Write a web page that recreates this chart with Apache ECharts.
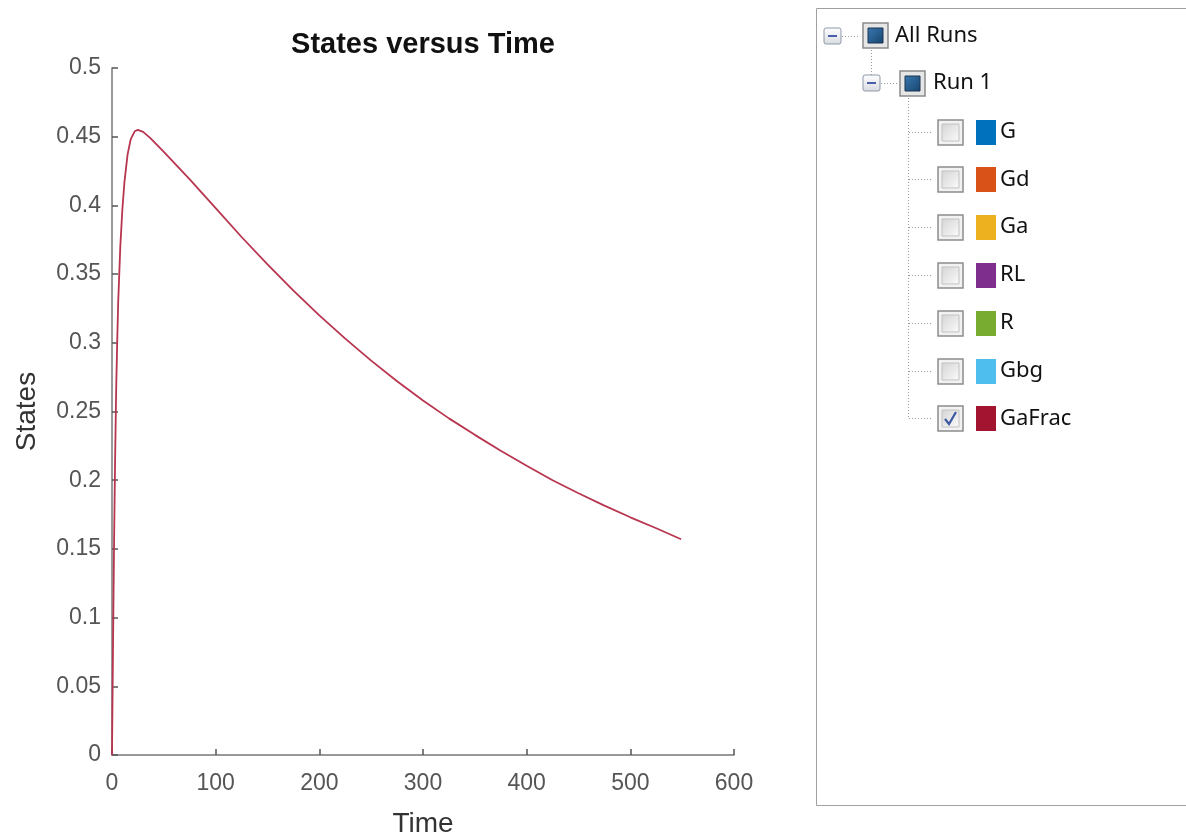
<!DOCTYPE html>
<html>
<head>
<meta charset="utf-8">
<script src="https://cdn.jsdelivr.net/npm/echarts@6/dist/echarts.min.js"></script>
<style>
html,body{margin:0;padding:0;background:#fff;}
#chart{width:1186px;height:838px;}
</style>
</head>
<body>
<div id="chart"></div>
<script>
// ---- data ----
var timeValues   = [0, 1, 2, 3, 4, 5, 6, 8, 10, 12, 15, 18, 22, 25, 30, 37, 50, 75, 100, 125, 150, 175, 200, 225, 250, 275, 300, 325, 350, 375, 400, 425, 450, 475, 500, 525, 549];
var gaFracValues = [0, 0.08, 0.155, 0.215, 0.265, 0.3, 0.33, 0.37, 0.397, 0.417, 0.437, 0.448, 0.454, 0.455, 0.4535, 0.449, 0.439, 0.419, 0.398, 0.377, 0.357, 0.338, 0.32, 0.303, 0.287, 0.272, 0.258, 0.245, 0.233, 0.2215, 0.2105, 0.2, 0.1905, 0.1815, 0.173, 0.165, 0.157];
var chartTitle = 'States versus Time';
var xAxisName = 'Time';
var yAxisName = 'States';
var treeRoot = 'All Runs';
var treeRun = 'Run 1';
var treeNames   = ['G', 'Gd', 'Ga', 'RL', 'R', 'Gbg', 'GaFrac'];
var treeColors  = ['#0072BD', '#D95319', '#EDB120', '#7E2F8E', '#77AC30', '#4DBEEE', '#A2142F'];
var treeChecked = [false, false, false, false, false, false, true];

var lineData = timeValues.map(function (t, i) { return [t, gaFracValues[i]]; });

var tickFont = 'Liberation Sans, Arial, sans-serif';
var uiFont = 'Noto Sans, Open Sans, sans-serif';
var dotLine = {stroke: '#9a9a9a', lineWidth: 1, lineDash: [1, 2]};

function expandBox(x, y) {
  return [
    {type: 'rect', shape: {x: x, y: y, width: 17, height: 16, r: 2},
     style: {fill: new echarts.graphic.LinearGradient(0, 0, 0, 1, [{offset: 0, color: '#ffffff'}, {offset: 1, color: '#d8dbe0'}]), stroke: '#8e99a8', lineWidth: 1}},
    {type: 'line', shape: {x1: x + 4, y1: y + 8, x2: x + 13, y2: y + 8}, style: {stroke: '#4a5fa8', lineWidth: 2}}
  ];
}
function runIcon(x, y) {
  return [
    {type: 'rect', shape: {x: x, y: y, width: 25, height: 25},
     style: {fill: '#e6e6e6', stroke: '#8a8a8a', lineWidth: 1.5}},
    {type: 'rect', shape: {x: x + 5, y: y + 5, width: 15, height: 15},
     style: {fill: new echarts.graphic.LinearGradient(0, 0, 1, 1, [{offset: 0, color: '#3a79b0'}, {offset: 1, color: '#17446f'}]), stroke: '#1b3450', lineWidth: 1}}
  ];
}
function checkBox(x, y, checked) {
  var els = [
    {type: 'rect', shape: {x: x, y: y, width: 25, height: 25},
     style: {fill: '#f2f2f2', stroke: '#8c8c8c', lineWidth: 1.5}},
    {type: 'rect', shape: {x: x + 4, y: y + 4, width: 17, height: 17},
     style: {fill: new echarts.graphic.LinearGradient(0, 0, 1, 1, [{offset: 0, color: '#d4d4d4'}, {offset: 1, color: '#fbfbfb'}]), stroke: '#c2c2c2', lineWidth: 1}}
  ];
  if (checked) {
    els.push({type: 'polyline', shape: {points: [[x + 7, y + 13], [x + 11, y + 18], [x + 18, y + 6]]},
      style: {stroke: '#3c5aa0', lineWidth: 2.2, fill: null}});
  }
  return els;
}

var graphics = [];
// title
graphics.push({type: 'text', x: 423, y: 45, style: {text: chartTitle, font: 'bold 29px ' + tickFont, fill: '#111', textAlign: 'center', textVerticalAlign: 'middle'}});
// panel
graphics.push({type: 'rect', shape: {x: 816.5, y: 8.5, width: 380, height: 797}, style: {fill: '#fff', stroke: '#a0a0a0', lineWidth: 1}});
// All Runs row
graphics = graphics.concat(expandBox(824, 28));
graphics.push({type: 'line', shape: {x1: 842, y1: 36.5, x2: 860, y2: 36.5}, style: dotLine});
graphics = graphics.concat(runIcon(863, 23));
graphics.push({type: 'text', x: 895, y: 36, style: {text: treeRoot, font: '22px ' + uiFont, fill: '#111', textVerticalAlign: 'middle'}});
graphics.push({type: 'line', shape: {x1: 871.5, y1: 50, x2: 871.5, y2: 75}, style: dotLine});
// Run 1 row
graphics = graphics.concat(expandBox(863, 75));
graphics.push({type: 'line', shape: {x1: 881, y1: 83.5, x2: 898, y2: 83.5}, style: dotLine});
graphics = graphics.concat(runIcon(900, 71));
graphics.push({type: 'text', x: 933, y: 83, style: {text: treeRun, font: '22px ' + uiFont, fill: '#111', textVerticalAlign: 'middle'}});
// vertical connector
graphics.push({type: 'line', shape: {x1: 908.5, y1: 98, x2: 908.5, y2: 419}, style: dotLine});
treeNames.forEach(function (name, i) {
  var cy = 131.5 + i * 47.8;
  graphics.push({type: 'line', shape: {x1: 909, y1: Math.round(cy) + 0.5, x2: 932, y2: Math.round(cy) + 0.5}, style: dotLine});
  graphics = graphics.concat(checkBox(938, Math.round(cy) - 12, treeChecked[i]));
  graphics.push({type: 'rect', shape: {x: 976, y: Math.round(cy) - 12, width: 20, height: 25}, style: {fill: treeColors[i]}});
  graphics.push({type: 'text', x: 1000, y: cy, style: {text: name, font: '22px ' + uiFont, fill: '#111', textVerticalAlign: 'middle'}});
});

var chart = echarts.init(document.getElementById('chart'));
chart.setOption({
  backgroundColor: '#ffffff',
  animation: false,
  grid: {left: 112, right: 452, top: 68, bottom: 83, containLabel: false, outerBoundsMode: 'none'},
  xAxis: {
    type: 'value', min: 0, max: 600, interval: 100,
    name: xAxisName, nameLocation: 'middle', nameGap: 55,
    nameTextStyle: {fontFamily: tickFont, fontSize: 28, color: '#333'},
    axisLine: {show: true, lineStyle: {color: '#777', width: 1.5}},
    axisTick: {show: true, inside: true, length: 6, lineStyle: {color: '#555', width: 1.5}},
    axisLabel: {fontFamily: tickFont, fontSize: 23, color: '#555', margin: 17},
    splitLine: {show: false}
  },
  yAxis: {
    type: 'value', min: 0, max: 0.5, interval: 0.05,
    name: yAxisName, nameLocation: 'middle', nameGap: 71, nameRotate: 90,
    nameTextStyle: {fontFamily: tickFont, fontSize: 28, color: '#333'},
    axisLine: {show: true, lineStyle: {color: '#777', width: 1.5}},
    axisTick: {show: true, inside: true, length: 6, lineStyle: {color: '#555', width: 1.5}},
    axisLabel: {fontFamily: tickFont, fontSize: 23, color: '#555', margin: 11,
      formatter: function (v) { return String(+v.toFixed(2)); }},
    splitLine: {show: false}
  },
  series: [{
    name: treeNames[6], type: 'line', data: lineData,
    showSymbol: false, smooth: false,
    lineStyle: {color: '#b8354f', width: 1.8},
    z: 3
  }],
  graphic: graphics
});
</script>
</body>
</html>
